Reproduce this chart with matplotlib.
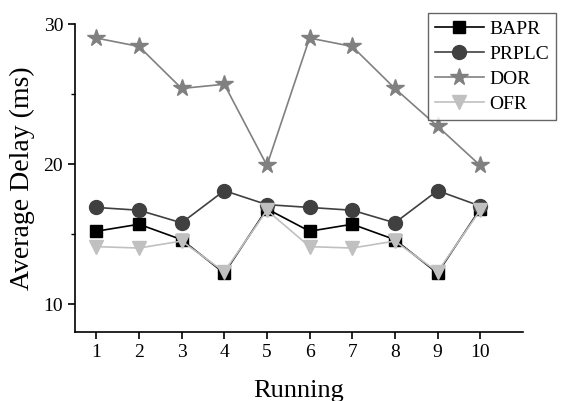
import matplotlib
matplotlib.use("Agg")
import matplotlib.pyplot as plt
from matplotlib.ticker import MultipleLocator

plt.rcParams['font.family'] = ['Liberation Serif', 'DejaVu Serif']

runs = [1, 2, 3, 4, 5, 6, 7, 8, 9, 10]
bapr = [15.2, 15.7, 14.6, 12.2, 16.8, 15.2, 15.7, 14.6, 12.2, 16.8]
prplc = [16.9, 16.7, 15.8, 18.1, 17.1, 16.9, 16.7, 15.8, 18.1, 17.0]
dor = [29.0, 28.4, 25.4, 25.7, 19.9, 29.0, 28.4, 25.4, 22.7, 19.9]
ofr = [14.1, 14.0, 14.5, 12.3, 16.7, 14.1, 14.0, 14.5, 12.3, 16.7]

fig = plt.figure(figsize=(5.64, 4.01), dpi=100)
ax = fig.add_axes([0.133, 0.172, 0.794, 0.768])

ax.plot(runs, bapr, color='black', marker='s', markersize=9, lw=1.2, label='BAPR')
ax.plot(runs, prplc, color='#404040', marker='o', markersize=10, lw=1.2, label='PRPLC')
ax.plot(runs, dor, color='#808080', marker='*', markersize=13, lw=1.2, label='DOR')
ax.plot(runs, ofr, color='#c0c0c0', marker='v', markersize=10, lw=1.2, label='OFR')

ax.set_xlim(0.5, 11)
ax.set_ylim(8, 30)
ax.set_xticks(runs)
ax.yaxis.set_major_locator(MultipleLocator(10))
ax.yaxis.set_minor_locator(MultipleLocator(5))
ax.tick_params(axis='both', which='major', labelsize=14, direction='out', length=5, width=1.2)
ax.tick_params(axis='y', which='minor', direction='out', length=3, width=1.0)
ax.spines['top'].set_visible(False)
ax.spines['right'].set_visible(False)
ax.spines['left'].set_linewidth(1.2)
ax.spines['bottom'].set_linewidth(1.2)

ax.set_xlabel('Running', fontsize=19, labelpad=14)
ax.set_ylabel('Average Delay (ms)', fontsize=20, labelpad=6)

leg = ax.legend(loc='upper right', bbox_to_anchor=(1.074, 1.035), fontsize=14, fancybox=False,
                edgecolor='#404040', handlelength=2.5, handletextpad=0.3, borderpad=0.35,
                labelspacing=0.38, borderaxespad=0)
leg.get_frame().set_linewidth(1.0)

fig.savefig('out.png', dpi=100)
